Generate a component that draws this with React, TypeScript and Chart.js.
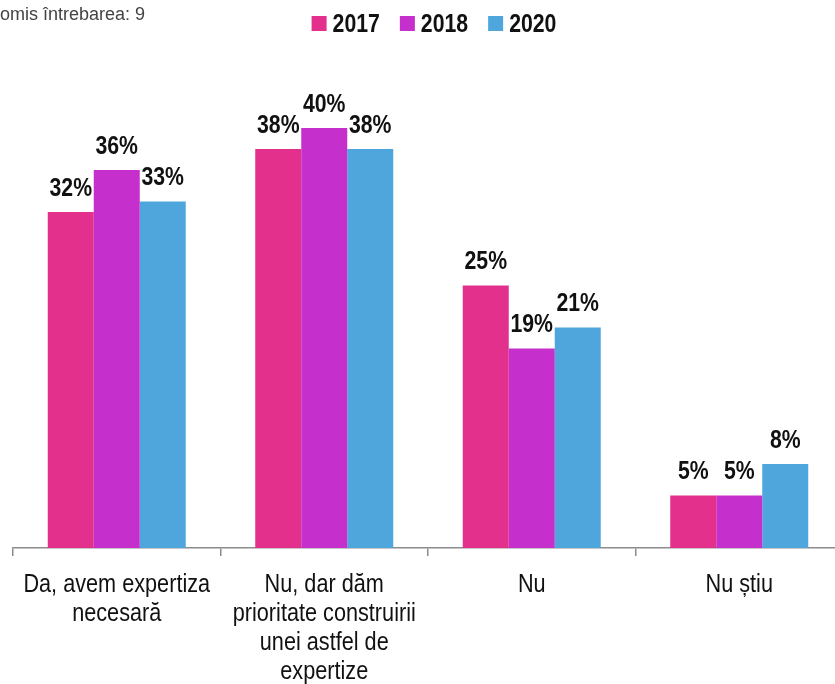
import React, { useEffect, useRef } from "react";
import { Chart, registerables } from "chart.js";

Chart.register(...registerables);

const categories: (string | string[])[] = [
  ["Da, avem expertiza", "necesară"],
  ["Nu, dar dăm", "prioritate construirii", "unei astfel de", "expertize"],
  "Nu",
  "Nu știu",
];
const seriesNames = ["2017", "2018", "2020"];
const values2017 = [32, 38, 25, 5];
const values2018 = [36, 40, 19, 5];
const values2020 = [33, 38, 21, 8];
const seriesColors = ["#E2308C", "#C52FCB", "#4FA6DC"];
const noteText = "omis întrebarea: 9";

const FONT = '"Liberation Sans", Arial, sans-serif';
const SQUEEZE = 0.85;

function narrowText(ctx: any, text: string, x: number, y: number, align: "left" | "center") {
  ctx.save();
  ctx.translate(x, y);
  ctx.scale(SQUEEZE, 1);
  ctx.textAlign = align;
  ctx.fillText(text, 0, 0);
  ctx.restore();
}

const overlayPlugin = {
  id: "overlay",
  afterDatasetsDraw(chart: any) {
    const ctx = chart.ctx;
    ctx.save();
    ctx.textBaseline = "alphabetic";
    // data labels
    ctx.font = `bold 25px ${FONT}`;
    ctx.fillStyle = "#111";
    chart.data.datasets.forEach((ds: any, di: number) => {
      const meta = chart.getDatasetMeta(di);
      meta.data.forEach((bar: any, i: number) => {
        narrowText(ctx, `${ds.data[i]}%`, bar.x, bar.y - 16, "center");
      });
    });
    // category labels
    const xs = chart.scales.x;
    ctx.font = `25.5px ${FONT}`;
    ctx.fillStyle = "#111";
    chart.data.labels.forEach((lab: any, i: number) => {
      const lines = Array.isArray(lab) ? lab : [lab];
      const cx = xs.getPixelForTick(i);
      lines.forEach((ln: string, li: number) => {
        narrowText(ctx, ln, cx, xs.top + 43.5 + li * 29.3, "center");
      });
    });
    // legend
    ctx.font = `bold 25px ${FONT}`;
    const boxSize = 15;
    const gap = 6;
    const itemGap = 20;
    const widths = chart.data.datasets.map(
      (ds: any) => boxSize + gap + ctx.measureText(ds.label).width * SQUEEZE
    );
    const total = widths.reduce((a: number, b: number) => a + b, 0) + itemGap * (widths.length - 1);
    let x = 434 - total / 2;
    chart.data.datasets.forEach((ds: any, di: number) => {
      ctx.fillStyle = ds.backgroundColor;
      ctx.fillRect(x, 16, boxSize, boxSize);
      ctx.fillStyle = "#111";
      narrowText(ctx, ds.label, x + boxSize + gap, 32, "left");
      x += widths[di] + itemGap;
    });
    // note
    ctx.font = `18px ${FONT}`;
    ctx.fillStyle = "#444";
    ctx.textAlign = "left";
    ctx.fillText(noteText, 0, 20);
    ctx.restore();
  },
};

export default function App() {
  const ref = useRef<HTMLCanvasElement | null>(null);
  useEffect(() => {
    if (!ref.current) return;
    const datasets = [values2017, values2018, values2020].map((vals, i) => ({
      label: seriesNames[i],
      data: vals,
      backgroundColor: seriesColors[i],
      borderWidth: 0,
      categoryPercentage: 0.665,
      barPercentage: 1,
    }));
    const chart = new Chart(ref.current, {
      type: "bar",
      data: { labels: categories, datasets },
      options: {
        responsive: false,
        animation: false,
        devicePixelRatio: 1,
        layout: { padding: { left: 13, right: 17, top: 60, bottom: 0 } },
        plugins: { legend: { display: false }, tooltip: { enabled: false } },
        scales: {
          y: { display: false, min: 0, max: 46.476 },
          x: {
            afterFit: (scale: any) => {
              scale.height = 136;
            },
            border: { display: true, color: "#8c8c8c", width: 1.5 },
            grid: {
              display: true,
              drawOnChartArea: false,
              drawTicks: true,
              tickLength: 8,
              color: "#8c8c8c",
              lineWidth: 1.5,
              offset: true,
            },
            ticks: { display: false, autoSkip: false },
          },
        },
      },
      plugins: [overlayPlugin],
    });
    return () => chart.destroy();
  }, []);
  return (
    <div style={{ position: "fixed", left: 0, top: 0, width: 835, height: 684, overflow: "hidden", background: "#fff" }}>
      <canvas ref={ref} width={860} height={684} style={{ display: "block" }} />
    </div>
  );
}
